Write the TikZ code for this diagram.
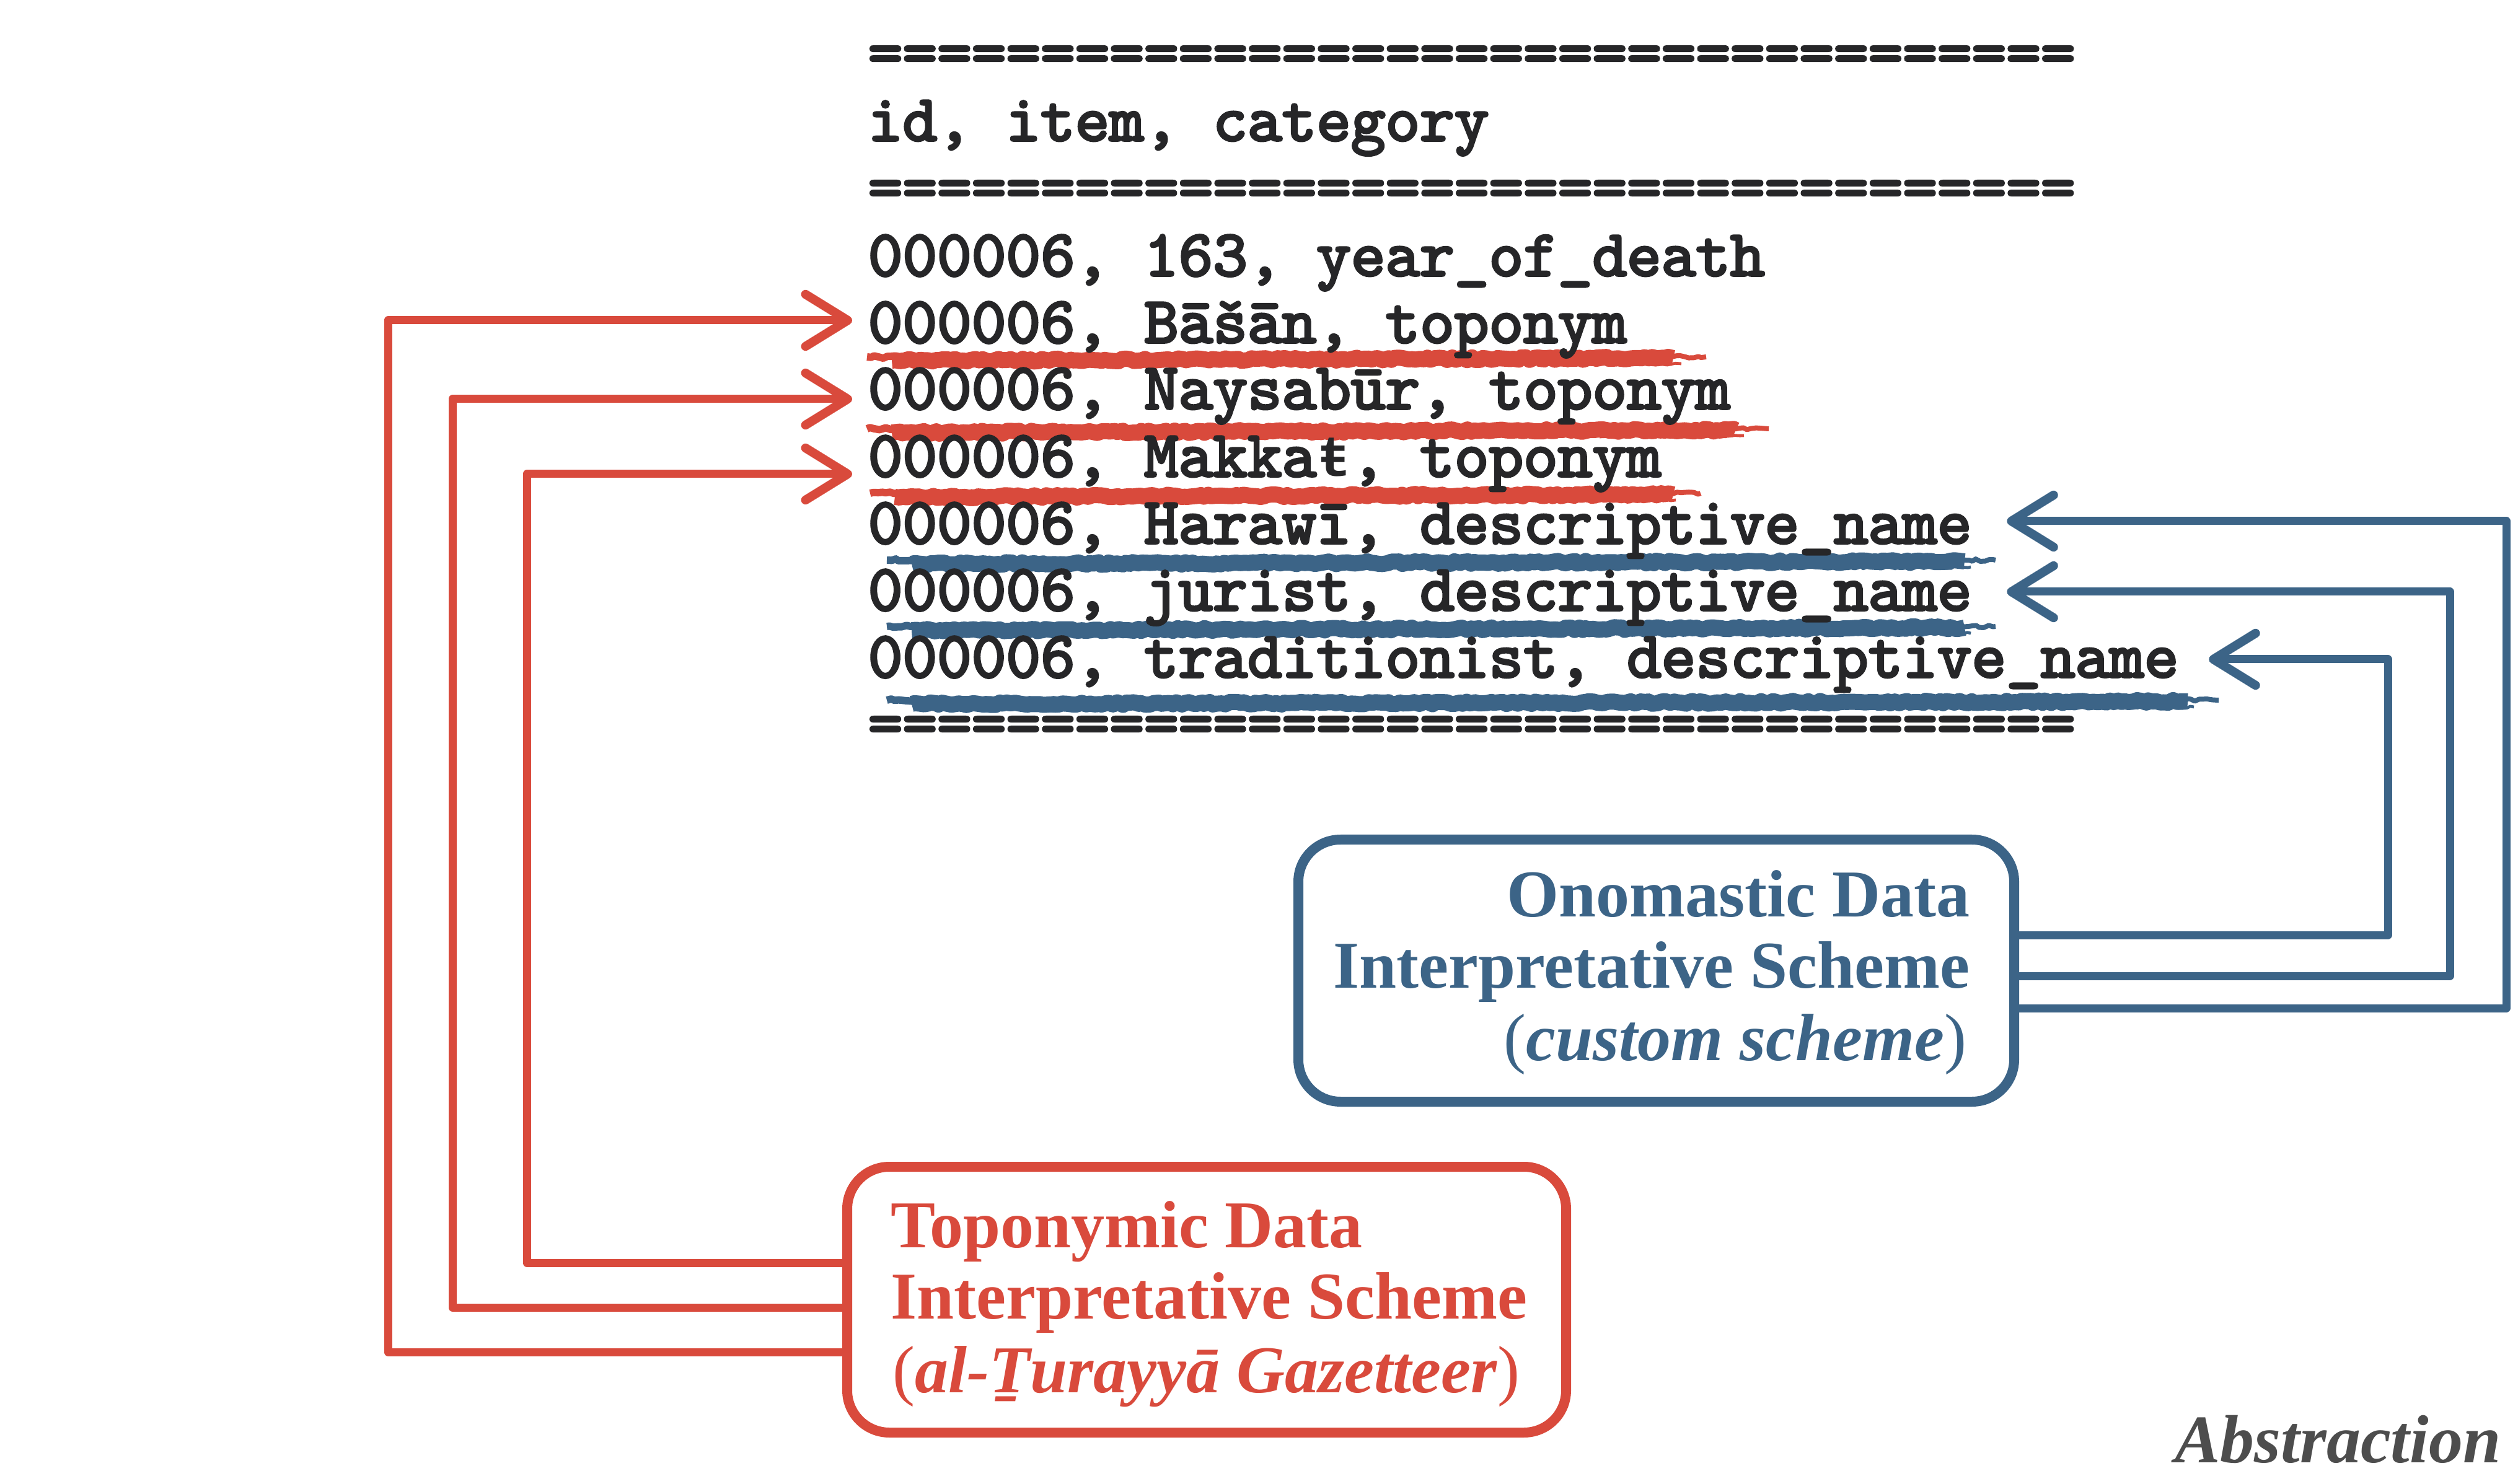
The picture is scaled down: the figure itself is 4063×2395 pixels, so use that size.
\documentclass[tikz,border=0pt]{standalone}
\usepackage{fontspec}
\setmainfont{Liberation Serif}
\newfontfamily\codefont{lmmono10-regular.otf}[FakeBold=3.5]
\newfontfamily\codefallback{Liberation Mono}
\usetikzlibrary{arrows.meta,calc,decorations.pathmorphing}
\definecolor{tred}{RGB}{217,74,60}
\definecolor{tblue}{RGB}{60,100,135}
\definecolor{ink}{RGB}{38,38,40}
\definecolor{absgray}{RGB}{77,77,77}
\newcommand\tstroke{{\codefallback\bfseries\fontsize{23.17pt}{30pt}\selectfont ŧ}}
\tikzset{
  rough/.style={decorate, decoration={random steps, segment length=1.6pt, amplitude=0.55pt}, line join=round},
  row/.style={font=\codefont\fontsize{26.5pt}{30pt}\selectfont, text=ink, anchor=base west, inner sep=0pt},
  con/.style={line width=3.25pt, line join=round, line cap=round,
    -{Straight Barb[length=17pt,width=21pt,round,line width=3.6pt]}},
  schemebox/.style={draw, line width=4pt, rounded corners=17pt, inner sep=0pt},
  btext/.style={font=\bfseries\fontsize{27pt}{29pt}\selectfont, inner sep=0pt},
}
\newcommand\brushline[5]{%
  \draw[#1, line width=6.5pt, rough] ({#2+40},{#5+3}) -- ({#3},{#5-1});
  \draw[#1, line width=3pt, rough] ({#2},{#5-3}) -- ({#2+300},{#5-2});
  \draw[#1, line width=2pt, rough] ({#3-320},{#5-5}) -- ({#4},{#5-3});
  \draw[#1, line width=1.2pt, rough] ({#3-220},{#5+10}) -- ({#4-40},{#5+8});
}
\begin{document}
\frenchspacing
\begin{tikzpicture}[x=0.25pt, y=-0.25pt]
\pgfmathsetseed{7}
\useasboundingbox (0,0) rectangle (4063,2395);

% brush underlines
\brushline{tred}{1399}{2700}{2753}{579}
\brushline{tred}{1399}{2801}{2854}{695}
\brushline{tred}{1404}{2700}{2744}{799}
\brushline{tblue}{1431}{3170}{3220}{907}
\brushline{tblue}{1431}{3170}{3220}{1014}
\brushline{tblue}{1431}{3530}{3580}{1133}

% table text
\node[row] (e1) at (1400,119) {===================================};
\node[row] (h)  at (1400,227) {id, item, category};
\node[row] (e2) at (1400,336) {===================================};
\node[row] (r1) at (1400,445) {000006, 163, year\_of\_death};
\node[row] (r2) at (1400,553) {000006, Bāšān, toponym};
\node[row] (r3) at (1400,660) {000006, Naysabūr, toponym};
\node[row] (r4) at (1400,769) {000006, Makka\tstroke, toponym};
\node[row] (r5) at (1400,877) {000006, Harawī, descriptive\_name};
\node[row] (r6) at (1400,985) {000006, jurist, descriptive\_name};
\node[row] (r7) at (1400,1093) {000006, traditionist, descriptive\_name};
\node[row] (e3) at (1400,1201) {===================================};

% boxes
\node[schemebox, tred, minimum width=290pt, minimum height=107.25pt] (tb) at (1947,2097.5) {};
\node[schemebox, tblue, minimum width=288.75pt, minimum height=105.75pt] (bb) at (2672.5,1566.5) {};

% box texts
\node[btext, text=tred, anchor=base west] (t1) at (1437,2013) {Toponymic Data};
\node[btext, text=tred, anchor=base west] (t2) at (1437,2128) {Interpretative Scheme};
\node[btext, text=tred, anchor=base west] (t3) at (1440,2247) {{\mdseries(}\textit{al-Ṯurayyā Gazetteer}{\mdseries)}};
\node[btext, text=tblue, anchor=base east] (o1) at (3179,1480) {Onomastic Data};
\node[btext, text=tblue, anchor=base east] (o2) at (3179,1595) {Interpretative Scheme};
\node[btext, text=tblue, anchor=base east] (o3) at (3174,1712) {{\mdseries(}\textit{custom scheme}{\mdseries)}};

\node[anchor=base east, inner sep=0pt, text=absgray, font=\bfseries\itshape\fontsize{27.5pt}{30pt}\selectfont] (abs) at (4036,2360) {Abstraction};

% red connectors
\draw[con, tred] ($(tb.west)+(0,84.5)$) -- ++(-733,0) |- ($(r2.base west)+(-25,-36)$);
\draw[con, tred] ($(tb.west)+(0,12.5)$) -- ++(-629,0) |- ($(r3.base west)+(-25,-16)$);
\draw[con, tred] ($(tb.west)+(0,-59.5)$) -- ++(-509,0) |- ($(r4.base west)+(-25,-4)$);

% blue connectors
\draw[con, tblue] ($(bb.east)+(0,60.5)$) -- ++(786,0) |- ($(r5.base east)+(56,-36)$);
\draw[con, tblue] ($(bb.east)+(0,8.5)$) -- ++(695,0) |- ($(r6.base east)+(56,-30)$);
\draw[con, tblue] ($(bb.east)+(0,-57.5)$) -- ++(595,0) |- ($(r7.base east)+(48,-29)$);
\end{tikzpicture}
\end{document}
